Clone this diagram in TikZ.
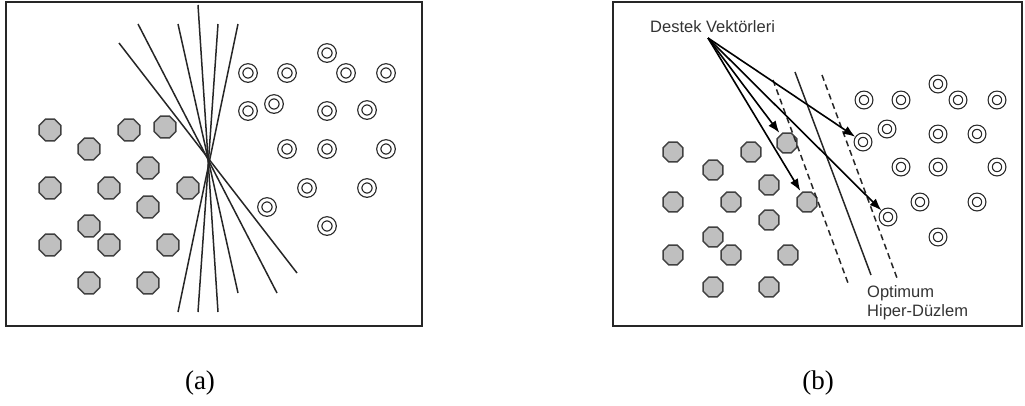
\documentclass[tikz,border=0pt]{standalone}
\usepackage{fontspec}
\setmainfont{Liberation Serif}
\newfontfamily\labelfont{Liberation Sans}
\usetikzlibrary{
  arrows.meta,
  shapes.geometric
}

\begin{document}
\begin{tikzpicture}[
  x=1pt, y=-1pt,
  frame/.style={draw=black!85, line width=2pt},
  octa/.style={regular polygon, regular polygon sides=8, draw=black!75,
    fill=gray!50, line width=1.4pt, inner sep=0pt, minimum size=#1},
  octa/.default=23.5pt,
  ring/.style={circle, draw=black!85, double, double distance=2.9pt,
    line width=1.2pt, inner sep=0pt, minimum size=#1},
  ring/.default=14.4pt,
  sep/.style={draw=black!85, line width=1.5pt},
  vec/.style={draw=black, line width=1.6pt, shorten >=2pt,
    -{Latex[length=12pt,width=9pt]}},
  lbl/.style={font=\labelfont\fontsize{16.5}{19}\selectfont, text=black!80,
    inner sep=0pt},
  subcap/.style={font=\fontsize{27}{30}\selectfont, inner sep=0pt}
]
\useasboundingbox (0,0) rectangle (1025,405);

% (a) many separating lines
\draw[frame] (6,2) rectangle (422,326);
\foreach \p [count=\i] in {(50,130),(129,130),(165,127),(89,149),(148,168),
    (50,188),(109,188),(188,188),(148,207),(89,226),(50,245),(109,245),
    (168,245),(89,283),(148,283)}
  \node[octa] (ga\i) at \p {};
\foreach \p [count=\i] in {(327,53),(248,73),(287,73),(346,73),(386,73),
    (248,111),(274,104),(327,111),(367,110),(287,149),(327,149),(386,149),
    (307,188),(367,188),(267,207),(327,226)}
  \node[ring] (ra\i) at \p {};
\draw[sep] (119,43) -- (297,273);
\draw[sep] (138,24) -- (277,293);
\draw[sep] (178,24) -- (238,293);
\draw[sep] (198,5) -- (218,312);
\draw[sep] (218,24) -- (198,312);
\draw[sep] (238,24) -- (178,312);

% (b) optimum hyperplane
\draw[frame] (613,2) rectangle (1022,326);
\foreach \p [count=\i] in {(673,152),(751,152),(787,143),(713,170),(769,185),
    (673,202),(731,202),(807,202),(769,220),(713,237),(673,255),(731,255),
    (788,255),(713,287),(769,287)}
  \node[octa=21.5pt] (gb\i) at \p {};
\foreach \p [count=\i] in {(938,84),(864,100),(901,100),(958,100),(997,100),
    (887,129),(863,142),(938,134),(977,134),(901,167),(938,167),(997,167),
    (920,202),(977,202),(888,217),(938,237)}
  \node[ring=13.6pt] (rb\i) at \p {};
\draw[sep] (795,72) -- (871,275);
\draw[sep, dash pattern=on 6pt off 4pt] (773,80) -- (848,283);
\draw[sep, dash pattern=on 6pt off 4pt] (822,75) -- (897,278);

\node[lbl, anchor=base west] (destek) at (650,32) {Destek Vektörleri};
\coordinate (dvfoot) at (708,38);
\foreach \t in {gb3,gb8,rb7,rb15}
  \draw[vec] (dvfoot) -- (\t);
\node[lbl, anchor=north west, align=left] (hiper) at (867,285)
  {Optimum\\Hiper-Düzlem};

\node[subcap] (capa) at (200,383) {(a)};
\node[subcap] (capb) at (818,383) {(b)};
\end{tikzpicture}
\end{document}
